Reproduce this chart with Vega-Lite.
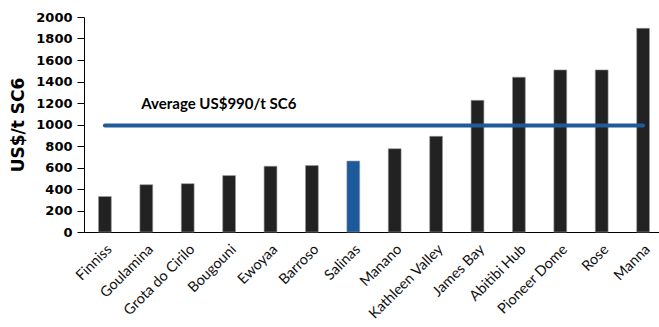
{
  "$schema": "https://vega.github.io/schema/vega-lite/v6.json",
  "width": 580,
  "height": 215,
  "autosize": "none",
  "padding": {"left": 84, "top": 17, "right": 0, "bottom": 95},
  "background": "white",
  "config": {"view": {"stroke": null}},
  "datasets": {
    "bars": [
      {"project": "Finniss", "cost": 330, "highlight": "no"},
      {"project": "Goulamina", "cost": 440, "highlight": "no"},
      {"project": "Grota do Cirilo", "cost": 450, "highlight": "no"},
      {"project": "Bougouni", "cost": 525, "highlight": "no"},
      {"project": "Ewoyaa", "cost": 612, "highlight": "no"},
      {"project": "Barroso", "cost": 618, "highlight": "no"},
      {"project": "Salinas", "cost": 660, "highlight": "yes"},
      {"project": "Manano", "cost": 775, "highlight": "no"},
      {"project": "Kathleen Valley", "cost": 890, "highlight": "no"},
      {"project": "James Bay", "cost": 1225, "highlight": "no"},
      {"project": "Abitibi Hub", "cost": 1440, "highlight": "no"},
      {"project": "Pioneer Dome", "cost": 1508, "highlight": "no"},
      {"project": "Rose", "cost": 1508, "highlight": "no"},
      {"project": "Manna", "cost": 1895, "highlight": "no"}
    ],
    "avg": [{"project": "Finniss", "project_end": "Manna", "cost": 990}],
    "note": [{"project": "Goulamina", "cost": 1190, "label": "Average US$990/t SC6"}]
  },
  "encoding": {
    "x": {
      "field": "project", "type": "nominal",
      "scale": {
        "domain": ["Finniss", "Goulamina", "Grota do Cirilo", "Bougouni", "Ewoyaa", "Barroso", "Salinas", "Manano", "Kathleen Valley", "James Bay", "Abitibi Hub", "Pioneer Dome", "Rose", "Manna"],
        "paddingInner": 0.69, "paddingOuter": 0.35
      },
      "axis": {
        "title": null, "labelAngle": -45, "labelAlign": "right", "labelBaseline": "top",
        "labelFont": "Lato", "labelFontSize": 14.5, "labelColor": "#111111",
        "ticks": false, "domainColor": "#000000", "domainWidth": 1.2, "labelPadding": 10,
        "labelLimit": 200
      }
    },
    "y": {
      "field": "cost", "type": "quantitative",
      "scale": {"domain": [0, 2000], "nice": false},
      "axis": {
        "title": "US$/t SC6", "titleFont": "DejaVu Sans", "titleFontSize": 17, "titleFontWeight": "bold",
        "titleColor": "#000000", "titlePadding": 8,
        "values": [0, 200, 400, 600, 800, 1000, 1200, 1400, 1600, 1800, 2000],
        "format": "d", "labelOverlap": false,
        "labelFont": "DejaVu Sans", "labelFontSize": 13, "labelFontWeight": "bold", "labelColor": "#000000",
        "grid": false, "domainColor": "#000000", "tickColor": "#000000", "tickSize": 7, "labelPadding": 5
      }
    }
  },
  "layer": [
    {
      "data": {"name": "bars"},
      "mark": {"type": "bar", "stroke": "#9a9a9a", "strokeWidth": 0.6},
      "encoding": {
        "color": {
          "field": "highlight", "type": "nominal",
          "scale": {"domain": ["no", "yes"], "range": ["#222222", "#1d5a9c"]},
          "legend": null
        }
      }
    },
    {
      "data": {"name": "avg"},
      "mark": {"type": "rule", "color": "#1f5a99", "strokeWidth": 4, "strokeCap": "round"},
      "encoding": {
        "x2": {"field": "project_end"}
      }
    },
    {
      "data": {"name": "note"},
      "mark": {"type": "text", "align": "left", "baseline": "middle", "dx": -5, "font": "Lato", "fontSize": 15, "fontWeight": "bold", "color": "#000000"},
      "encoding": {
        "text": {"field": "label"}
      }
    }
  ]
}
